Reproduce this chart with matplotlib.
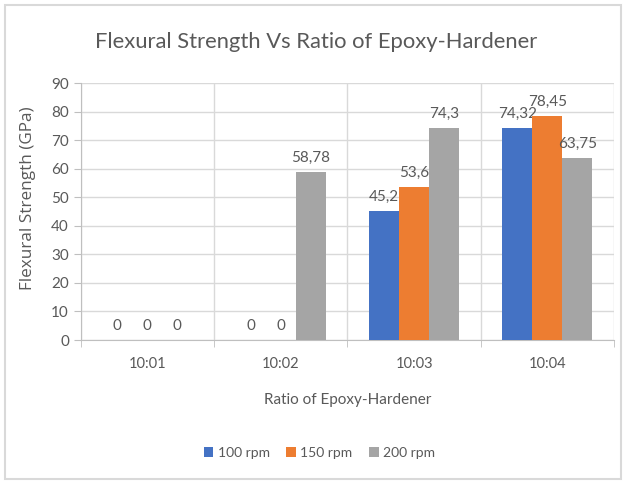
import matplotlib.pyplot as plt
import numpy as np
from matplotlib.patches import Rectangle

categories = ["10:01", "10:02", "10:03", "10:04"]
series = ["100 rpm", "150 rpm", "200 rpm"]
rpm100 = [0, 0, 45.2, 74.32]
rpm150 = [0, 0, 53.6, 78.45]
rpm200 = [0, 58.78, 74.3, 63.75]
labels100 = ["0", "0", "45,2", "74,32"]
labels150 = ["0", "0", "53,6", "78,45"]
labels200 = ["0", "58,78", "74,3", "63,75"]
colors = ["#4472C4", "#ED7D31", "#A5A5A5"]

plt.rcParams['font.family'] = ['Lato', 'DejaVu Sans']
txt = "#595959"

fig = plt.figure(figsize=(6.26, 4.84), dpi=100)
fig.patches.append(Rectangle((0.008, 0.01), 0.984, 0.98, transform=fig.transFigure,
                             fill=False, edgecolor="#D9D9D9", lw=1.5))
ax = fig.add_axes([0.129, 0.2975, 0.852, 0.531])

x = np.arange(len(categories))
w = 0.225
data = [rpm100, rpm150, rpm200]
labs = [labels100, labels150, labels200]
for i in range(3):
    bars = ax.bar(x + (i - 1) * w, data[i], w, color=colors[i], label=series[i], zorder=3)
    ax.bar_label(bars, labels=labs[i], padding=5, fontsize=11, color=txt)

ax.set_xlim(-0.5, 3.5)
ax.set_ylim(0, 90)
ax.set_yticks(range(0, 91, 10))
ax.set_xticks(x)
ax.set_xticklabels(categories, fontsize=10.5, color=txt)
ax.set_xticks(np.arange(-0.5, 4, 1), minor=True)
ax.tick_params(axis='x', which='major', length=0, pad=12)
ax.tick_params(axis='x', which='minor', length=5, color="#BFBFBF")
ax.tick_params(axis='y', length=5, color="#BFBFBF", labelsize=11, labelcolor=txt)
ax.grid(axis='y', color="#D9D9D9", lw=1, zorder=0)
ax.grid(axis='x', which='minor', color="#D9D9D9", lw=1, zorder=0)
for s in ["top", "right"]:
    ax.spines[s].set_visible(False)
ax.spines["left"].set_color("#BFBFBF")
ax.spines["bottom"].set_color("#BFBFBF")

ax.set_ylabel("Flexural Strength (GPa)", fontsize=12.3, color=txt, family=['Open Sans', 'DejaVu Sans'])
ax.yaxis.set_label_coords(-0.083, 0.55)
ax.set_xlabel("Ratio of Epoxy-Hardener", fontsize=11, color=txt, labelpad=16)
fig.text(0.505, 0.913, "Flexural Strength Vs Ratio of Epoxy-Hardener", ha='center', va='center',
         fontsize=15.8, color=txt)
fig.legend(loc='center', bbox_to_anchor=(0.51, 0.065), ncol=3, frameon=False, fontsize=10,
           handlelength=0.7, handleheight=0.7, handletextpad=0.3, columnspacing=1.2,
           labelcolor=txt)

fig.savefig("out.png", dpi=100)
